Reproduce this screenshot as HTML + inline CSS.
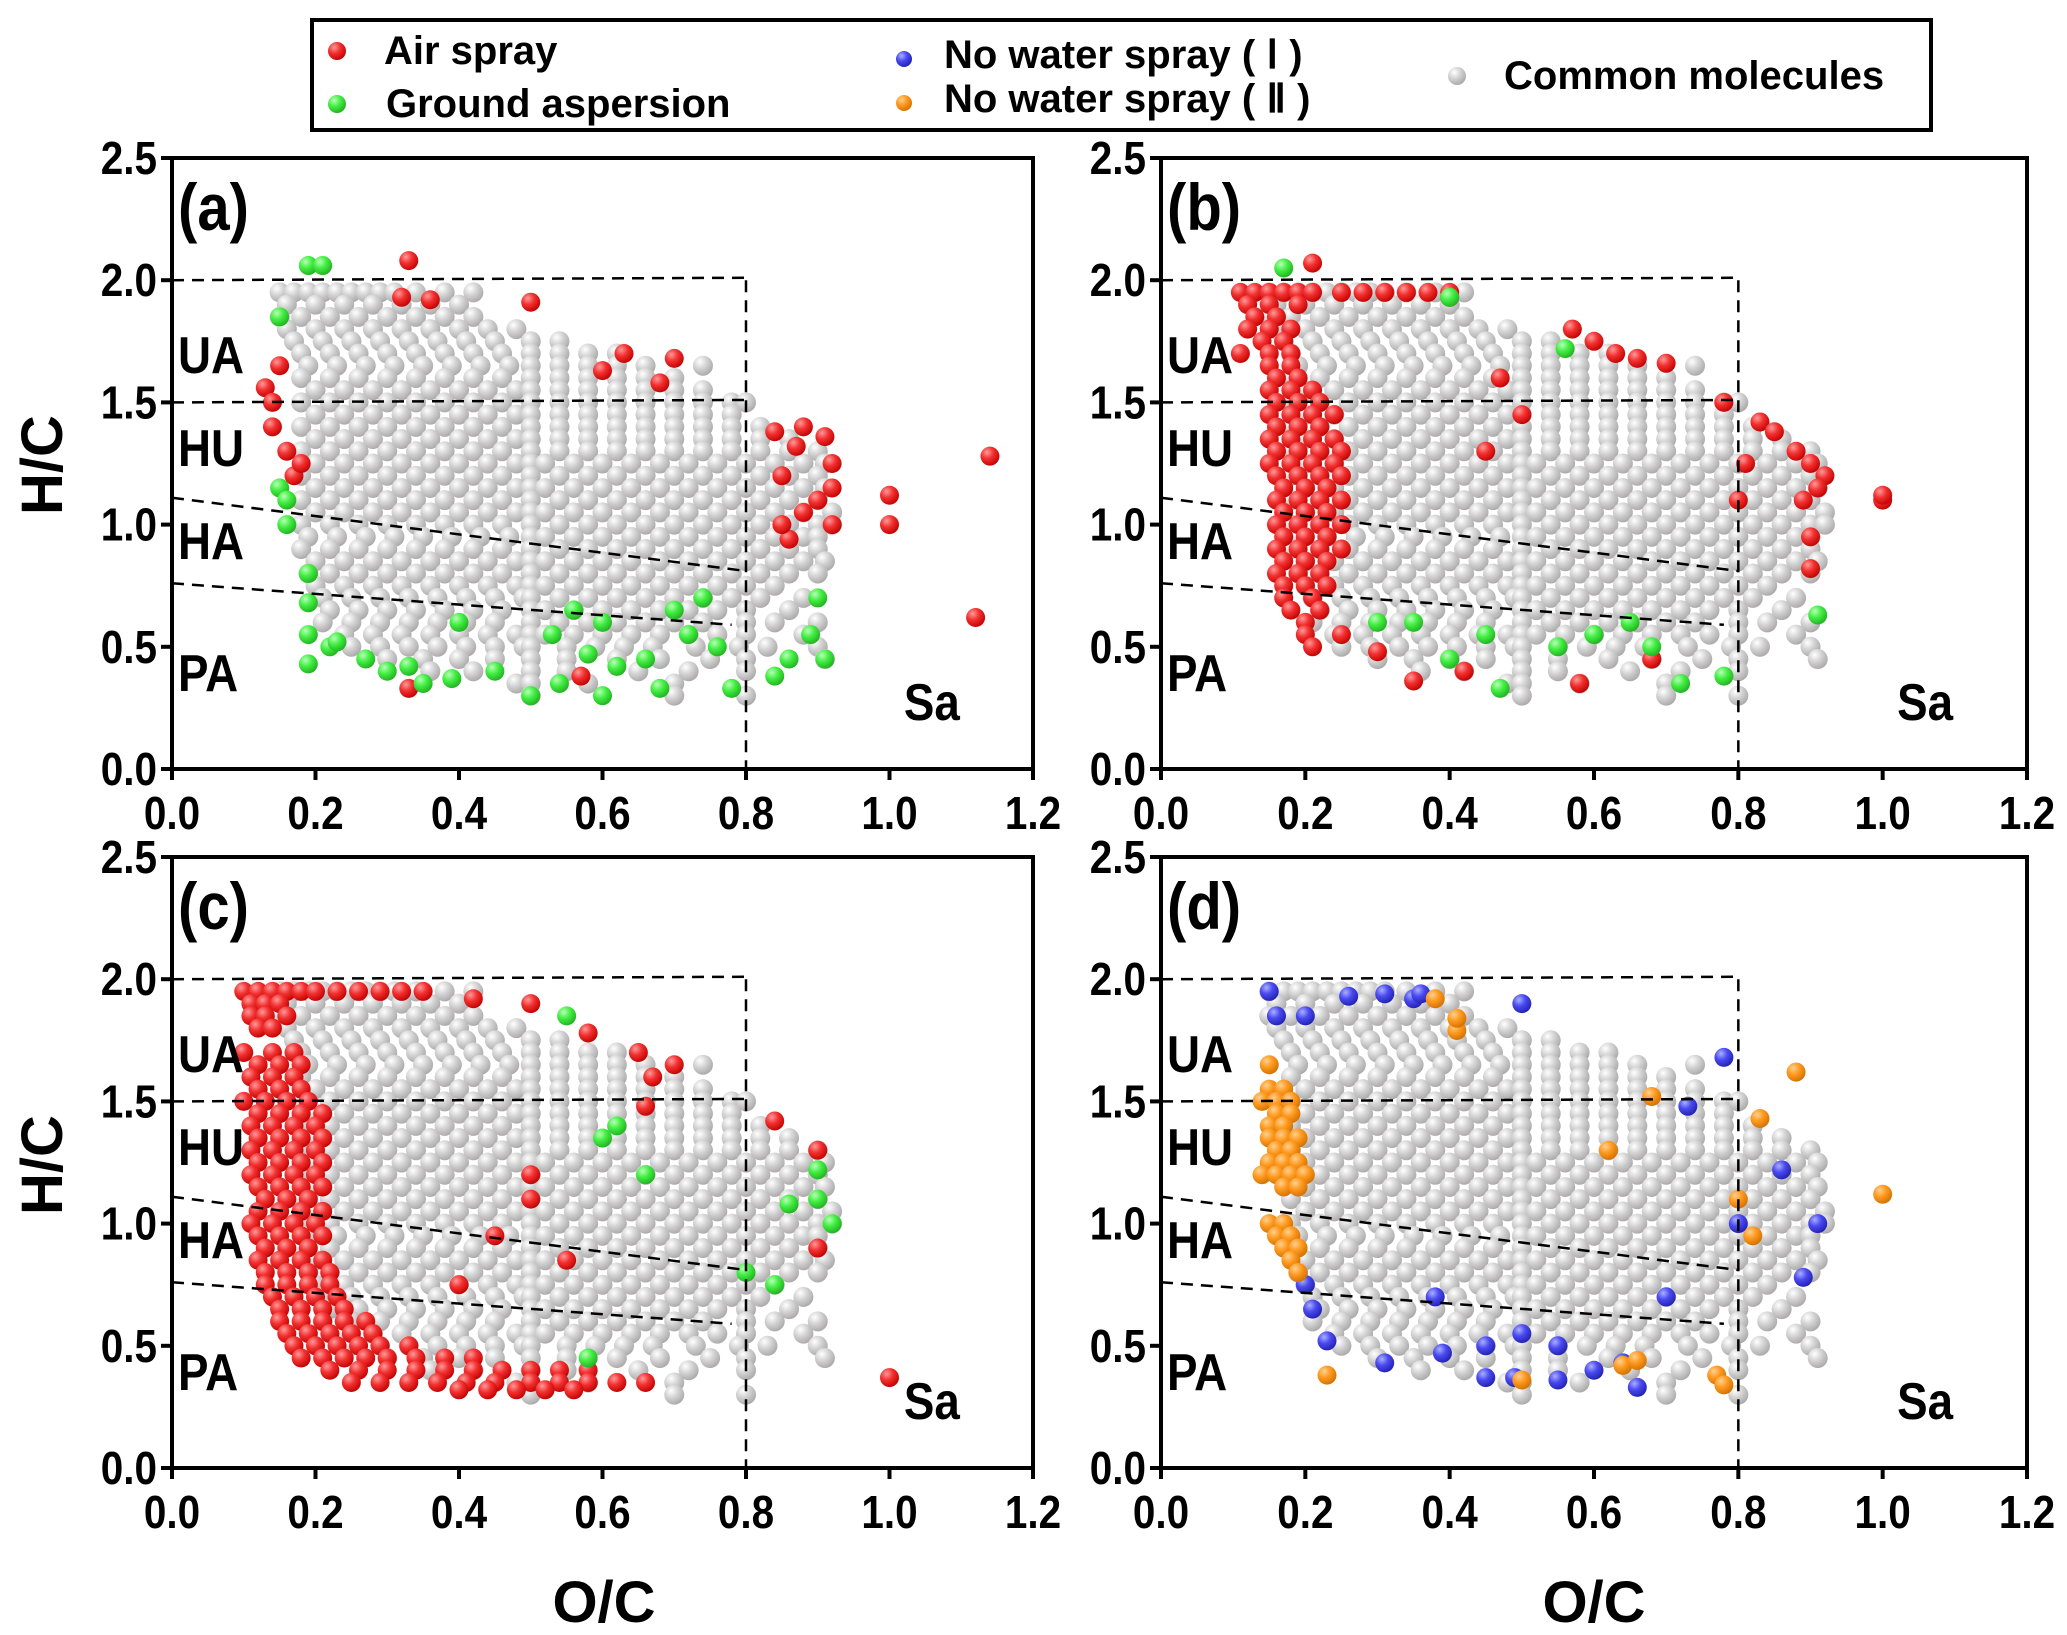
<!DOCTYPE html>
<html><head><meta charset="utf-8"><style>
html,body{margin:0;padding:0;background:#fff;}
svg{display:block;}
text{font-family:"Liberation Sans",Arial,sans-serif;font-weight:bold;fill:#000;}
</style></head><body>
<svg id="fig" width="2067" height="1635" viewBox="0 0 2067 1635" xmlns="http://www.w3.org/2000/svg">
<defs>
<radialGradient id="g-gray" cx="0.35" cy="0.3" r="0.75"><stop offset="0" stop-color="#ffffff"/><stop offset="0.45" stop-color="#d4d4d4"/><stop offset="1" stop-color="#a9a6a6"/></radialGradient>
<radialGradient id="g-red" cx="0.35" cy="0.3" r="0.75"><stop offset="0" stop-color="#ff9a9a"/><stop offset="0.45" stop-color="#f23030"/><stop offset="1" stop-color="#c00000"/></radialGradient>
<radialGradient id="g-green" cx="0.35" cy="0.3" r="0.75"><stop offset="0" stop-color="#b8ffb8"/><stop offset="0.45" stop-color="#44ee44"/><stop offset="1" stop-color="#1eb01e"/></radialGradient>
<radialGradient id="g-blue" cx="0.35" cy="0.3" r="0.75"><stop offset="0" stop-color="#aab0ff"/><stop offset="0.45" stop-color="#4a4af0"/><stop offset="1" stop-color="#2020b0"/></radialGradient>
<radialGradient id="g-orange" cx="0.35" cy="0.3" r="0.75"><stop offset="0" stop-color="#ffd090"/><stop offset="0.45" stop-color="#ff9a20"/><stop offset="1" stop-color="#d07000"/></radialGradient>
</defs>
<g id="legend">
<rect x="312" y="20" width="1619" height="110" fill="#fff" stroke="#000" stroke-width="4"/>
<g><circle cx="337" cy="51" r="9" fill="url(#g-red)"/><text x="384" y="64" font-size="40">Air spray</text></g>
<g><circle cx="337" cy="104" r="9" fill="url(#g-green)"/><text x="386" y="117" font-size="40">Ground aspersion</text></g>
<g><circle cx="904" cy="59" r="8" fill="url(#g-blue)"/><text x="944" y="68" font-size="40">No water spray ( Ⅰ )</text></g>
<g><circle cx="904" cy="103" r="8" fill="url(#g-orange)"/><text x="944" y="112" font-size="40">No water spray ( Ⅱ )</text></g>
<g><circle cx="1457" cy="76" r="9" fill="url(#g-gray)"/><text x="1504" y="89" font-size="40">Common molecules</text></g>
</g>
<text x="62" y="465" font-size="58" text-anchor="middle" transform="rotate(-90 62 465)">H/C</text>
<text x="62" y="1165" font-size="58" text-anchor="middle" transform="rotate(-90 62 1165)">H/C</text>
<text x="604" y="1622" font-size="58" text-anchor="middle">O/C</text>
<text x="1594" y="1622" font-size="58" text-anchor="middle">O/C</text>
</svg>
<script>
// ---- data ----
const xTicks = [0.0, 0.2, 0.4, 0.6, 0.8, 1.0, 1.2];
const yTicks = [0.0, 0.5, 1.0, 1.5, 2.0, 2.5];
const panelLetters = ['(a)', '(b)', '(c)', '(d)'];
const regionLabels = ['UA', 'HU', 'HA', 'PA', 'Sa'];
const regionLabelHC = [1.62, 1.24, 0.86, 0.32, 0.2];
// common molecules: [H/C, [O/C values]]
const commonRows = [
[1.95,[.15,.17,.19,.21,.23,.25,.27,.29,.31,.34,.38,.42]],
[1.90,[.16,.20,.24,.28,.32,.36,.40]],
[1.85,[.15,.18,.22,.26,.30,.34,.38,.42]],
[1.80,[.16,.20,.24,.28,.32,.36,.40,.44,.48]],
[1.75,[.17,.21,.25,.29,.33,.37,.41,.45,.50,.54]],
[1.70,[.18,.22,.26,.30,.34,.38,.42,.46,.50,.54,.58,.62]],
[1.65,[.19,.23,.27,.31,.35,.39,.43,.47,.50,.54,.58,.62,.66,.74]],
[1.60,[.18,.22,.26,.30,.34,.38,.42,.46,.50,.54,.58,.62,.66,.70]],
[1.55,[.20,.24,.28,.32,.36,.40,.44,.48,.50,.54,.58,.62,.66,.70,.74]],
[1.50,[.18,.22,.26,.30,.34,.38,.42,.46,.50,.54,.58,.62,.66,.70,.74,.78,.80]],
[1.45,[.20,.24,.28,.32,.36,.40,.44,.48,.50,.54,.58,.62,.66,.70,.74,.78]],
[1.40,[.18,.22,.26,.30,.34,.38,.42,.46,.50,.54,.58,.62,.66,.70,.74,.78,.82]],
[1.35,[.20,.24,.28,.32,.36,.40,.44,.48,.50,.54,.58,.62,.66,.70,.74,.78,.82,.86]],
[1.30,[.18,.22,.26,.30,.34,.38,.42,.46,.50,.54,.58,.62,.66,.70,.74,.78,.82,.86,.90]],
[1.25,[.20,.24,.28,.32,.36,.40,.44,.48,.50,.52,.56,.60,.64,.68,.72,.76,.80,.84,.88,.91]],
[1.20,[.18,.22,.26,.30,.34,.38,.42,.46,.50,.54,.58,.62,.66,.70,.74,.78,.82,.86,.90]],
[1.15,[.20,.24,.28,.32,.36,.40,.44,.48,.50,.52,.56,.60,.64,.68,.72,.76,.80,.84,.88,.91]],
[1.10,[.18,.22,.26,.30,.34,.38,.42,.46,.50,.54,.58,.62,.66,.70,.74,.78,.82,.86,.90]],
[1.05,[.20,.24,.28,.32,.36,.40,.44,.48,.50,.52,.56,.60,.64,.68,.72,.76,.80,.84,.88,.92]],
[1.00,[.18,.22,.26,.30,.34,.38,.42,.46,.50,.54,.58,.62,.66,.70,.74,.78,.82,.86,.90,.92]],
[0.95,[.19,.23,.27,.31,.35,.39,.43,.47,.50,.52,.56,.60,.64,.68,.72,.76,.80,.84,.88,.90]],
[0.90,[.18,.22,.26,.30,.34,.38,.42,.46,.50,.54,.58,.62,.66,.70,.74,.78,.82,.86,.90]],
[0.85,[.20,.24,.28,.32,.36,.40,.44,.48,.50,.52,.56,.60,.64,.68,.72,.76,.80,.84,.88,.91]],
[0.80,[.19,.22,.26,.30,.34,.38,.42,.46,.50,.54,.58,.62,.66,.70,.74,.78,.82,.86,.90]],
[0.75,[.20,.24,.28,.32,.36,.40,.44,.48,.50,.52,.56,.60,.64,.68,.72,.76,.80,.84]],
[0.70,[.21,.25,.29,.33,.37,.41,.45,.49,.50,.54,.58,.62,.66,.70,.74,.78,.82,.88]],
[0.65,[.22,.26,.30,.34,.38,.42,.46,.50,.52,.56,.60,.64,.68,.72,.76,.80,.86]],
[0.60,[.21,.25,.29,.33,.37,.41,.45,.50,.54,.58,.62,.66,.70,.74,.80,.84,.90]],
[0.55,[.24,.28,.32,.36,.40,.44,.48,.50,.52,.56,.60,.64,.68,.72,.76,.80,.88]],
[0.50,[.25,.29,.33,.37,.41,.45,.49,.50,.55,.59,.63,.67,.73,.79,.83,.90]],
[0.45,[.30,.35,.40,.45,.50,.55,.62,.68,.75,.80,.91]],
[0.40,[.36,.42,.50,.55,.65,.72,.80]],
[0.35,[.48,.50,.58,.70]],
[0.30,[.50,.70,.80]]
];
// panel (a)
const aRedPts = [[.33,2.08],[.50,1.91],[.13,1.56],[.14,1.40],[.17,1.20],[.15,1.65],[.14,1.50],[.32,1.93],[.36,1.92],[.63,1.70],[.70,1.68],[.60,1.63],[.68,1.58],[.84,1.38],[.87,1.32],[.88,1.40],[.91,1.36],[.92,1.25],[.92,1.15],[.90,1.10],[.92,1.00],[.88,1.05],[.85,1.20],[.86,0.94],[.85,1.00],[1.00,1.12],[1.00,1.00],[1.14,1.28],[1.12,0.62],[.33,0.33],[.57,0.38],[.16,1.30],[.18,1.25]];
const aGreenPts = [[.19,2.06],[.21,2.06],[.15,1.85],[.15,1.15],[.16,1.10],[.16,1.00],[.19,0.80],[.19,0.68],[.19,0.55],[.19,0.43],[.22,0.50],[.23,0.52],[.27,0.45],[.30,0.40],[.33,0.42],[.35,0.35],[.39,0.37],[.45,0.40],[.50,0.30],[.54,0.35],[.58,0.47],[.60,0.30],[.62,0.42],[.66,0.45],[.68,0.33],[.72,0.55],[.76,0.50],[.78,0.33],[.84,0.38],[.86,0.45],[.90,0.70],[.89,0.55],[.91,0.45],[.53,0.55],[.56,0.65],[.60,0.60],[.40,0.60],[.70,0.65],[.74,0.70]];
// panel (b)
const bRedRows = [
[1.95,[.11,.13,.15,.17,.19,.21,.25,.28,.31,.34,.37,.40]],
[1.90,[.12,.15,.19]],
[1.85,[.13,.16]],[1.80,[.12,.15,.18]],[1.75,[.14,.17]],[1.70,[.11,.15,.18]],
[1.65,[.15,.18]],[1.60,[.16,.19]],[1.55,[.15,.18,.21]],[1.50,[.16,.19,.22]],
[1.45,[.15,.18,.21,.24]],[1.40,[.16,.19,.22]],[1.35,[.15,.18,.21,.24]],[1.30,[.16,.19,.22,.25]],
[1.25,[.15,.18,.21,.24]],[1.20,[.16,.19,.22,.25]],[1.15,[.17,.20,.23]],[1.10,[.16,.19,.22,.25]],
[1.05,[.17,.20,.23]],[1.00,[.16,.19,.22,.25]],[0.95,[.17,.20,.23]],[0.90,[.16,.19,.22,.25]],
[0.85,[.17,.20,.23]],[0.80,[.16,.19,.22]],[0.75,[.17,.20,.23]],[0.70,[.17,.21]],
[0.65,[.18,.22]],[0.60,[.20]],[0.55,[.20,.25]],[0.50,[.21]]
];
const bRedPts = [[.21,2.07],[.40,1.93],[.57,1.80],[.60,1.75],[.63,1.70],[.66,1.68],[.70,1.66],[.78,1.50],[.83,1.42],[.85,1.38],[.88,1.30],[.90,1.25],[.92,1.20],[.91,1.15],[.89,1.10],[.90,0.95],[.90,0.82],[.81,1.25],[.80,1.10],[1.00,1.10],[1.00,1.12],[.35,0.36],[.42,0.40],[.58,0.35],[.68,0.45],[.30,0.48],[.47,1.60],[.50,1.45],[.45,1.30]];
const bGreenPts = [[.17,2.05],[.40,1.93],[.91,0.63],[.47,0.33],[.72,0.35],[.78,0.38],[.40,0.45],[.45,0.55],[.55,0.50],[.60,0.55],[.65,0.60],[.68,0.50],[.30,0.60],[.35,0.60],[.56,1.72]];
// panel (c)
const cRedRows = [
[1.95,[.10,.12,.14,.16,.18,.20,.23,.26,.29,.32,.35]],
[1.90,[.11,.13,.15]],[1.85,[.11,.13,.16]],[1.80,[.12,.14]],
[1.70,[.10,.14,.17]],[1.65,[.12,.15,.18]],[1.60,[.11,.14,.17]],[1.55,[.12,.15,.18]],
[1.50,[.10,.13,.16,.19]],[1.45,[.12,.15,.18,.21]],[1.40,[.11,.14,.17,.20]],[1.35,[.12,.15,.18,.21]],
[1.30,[.11,.14,.17,.20]],[1.25,[.12,.15,.18,.21]],[1.20,[.11,.14,.17,.20]],[1.15,[.12,.15,.18,.21]],
[1.10,[.13,.16,.19]],[1.05,[.12,.15,.18,.21]],[1.00,[.11,.14,.17,.20]],[0.95,[.12,.15,.18,.21]],
[0.90,[.13,.16,.19]],[0.85,[.12,.15,.18,.21]],[0.80,[.13,.16,.19,.22]],[0.75,[.13,.16,.19,.22]],
[0.70,[.14,.17,.20,.23]],[0.65,[.15,.18,.21,.24]],[0.60,[.15,.18,.21,.24,.27]],[0.55,[.16,.19,.22,.25,.28]],
[0.50,[.17,.20,.23,.26,.29,.33]],[0.45,[.18,.21,.24,.27,.30,.34,.38,.42]],
[0.40,[.22,.26,.30,.34,.38,.42,.46,.50,.54,.58]],[0.35,[.25,.29,.33,.37,.41,.45,.50,.54,.58,.62,.66]],
[0.32,[.40,.44,.48,.52,.56]]
];
const cRedPts = [[.42,1.92],[.50,1.90],[.58,1.78],[.65,1.70],[.70,1.65],[.67,1.60],[.66,1.48],[.84,1.42],[.90,1.30],[.90,0.90],[1.00,0.37],[.50,1.20],[.50,1.10],[.45,0.95],[.55,0.85],[.40,0.75]];
const cGreenPts = [[.90,1.22],[.90,1.10],[.92,1.00],[.86,1.08],[.84,0.75],[.80,0.80],[.58,0.45],[.55,1.85],[.60,1.35],[.62,1.40],[.66,1.20]];
// panel (d)
const dBluePts = [[.15,1.95],[.16,1.85],[.20,1.85],[.26,1.93],[.31,1.94],[.35,1.92],[.36,1.94],[.50,1.90],[.78,1.68],[.73,1.48],[.86,1.22],[.89,0.78],[.91,1.00],[.80,1.00],[.20,0.75],[.21,0.65],[.23,0.52],[.31,0.43],[.39,0.47],[.45,0.37],[.49,0.37],[.55,0.36],[.60,0.40],[.64,0.43],[.66,0.33],[.45,0.50],[.50,0.55],[.55,0.50],[.38,0.70],[.70,0.70]];
const dOrangeRows = [
[1.65,[.15]],[1.55,[.15,.17]],[1.50,[.14,.16,.18]],[1.45,[.16,.18]],[1.40,[.15,.17]],
[1.35,[.15,.17,.19]],[1.30,[.16,.18]],[1.25,[.15,.17,.19]],[1.20,[.14,.16,.18,.20]],[1.15,[.17,.19]],
[1.00,[.15,.17]],[0.95,[.16,.18]],[0.90,[.17,.19]],[0.85,[.18]],[0.80,[.19]]
];
const dOrangePts = [[.23,0.38],[.50,0.36],[.64,0.42],[.66,0.44],[.77,0.38],[.78,0.34],[.88,1.62],[1.00,1.12],[.83,1.43],[.38,1.92],[.41,1.79],[.41,1.84],[.68,1.52],[.82,0.95],[.80,1.10],[.62,1.30]];

// ---- layout ----
const panels = [
 {x0:172, x1:1033, yT:158, yB:769},
 {x0:1161, x1:2027, yT:158, yB:769},
 {x0:172, x1:1033, yT:857, yB:1468},
 {x0:1161, x1:2027, yT:857, yB:1468}
];
const NS = 'http://www.w3.org/2000/svg';
const svg = document.getElementById('fig');
function mk(tag, attrs, parent){const e=document.createElementNS(NS,tag);for(const k in attrs)e.setAttribute(k,attrs[k]);(parent||svg).appendChild(e);return e;}
function rowsToPts(rows){const out=[];rows.forEach(r=>r[1].forEach(o=>out.push([o,r[0]])));return out;}
function ctext(parent, x, y, size, anchor, str){
  const g = mk('g', {transform: 'translate(' + x + ',' + y + ') scale(0.88,1)'}, parent);
  const t = mk('text', {x: 0, y: 0, 'font-size': size, 'text-anchor': anchor}, g);
  t.textContent = str;
  return t;
}

const panelSeries = [
 [['red', aRedPts], ['green', aGreenPts]],
 [['red', rowsToPts(bRedRows).concat(bRedPts)], ['green', bGreenPts]],
 [['red', rowsToPts(cRedRows).concat(cRedPts)], ['green', cGreenPts]],
 [['blue', dBluePts], ['orange', rowsToPts(dOrangeRows).concat(dOrangePts)]]
];
const commonPts = rowsToPts(commonRows);

panels.forEach((p, i) => {
  const sx = v => p.x0 + (v / 1.2) * (p.x1 - p.x0);
  const sy = v => p.yB - (v / 2.5) * (p.yB - p.yT);
  const g = mk('g', {});
  
  
  const clipId = 'clip' + i;
  const cp = mk('clipPath', {id: clipId}, g);
  mk('rect', {x: p.x0, y: p.yT, width: p.x1 - p.x0, height: p.yB - p.yT}, cp);
  const pts = mk('g', {'clip-path': 'url(#' + clipId + ')'}, g);
  
  
  commonPts.forEach(d => {
    const c = mk('circle', {cx: sx(d[0]), cy: sy(d[1]), r: 10, fill: 'url(#g-gray)'}, pts);
    
    
  });
  panelSeries[i].forEach(s => {
    s[1].forEach(d => {
      const c = mk('circle', {cx: sx(d[0]), cy: sy(d[1]), r: 9.5, fill: 'url(#g-' + s[0] + ')'}, pts);
      
      
    });
  });
  const dl = mk('g', {stroke: '#000', 'stroke-width': 2.5, 'stroke-dasharray': '12 8', fill: 'none'}, g);
  
  
  mk('line', {x1: sx(0), y1: sy(2.0), x2: sx(0.8), y2: sy(2.01)}, dl);
  mk('line', {x1: sx(0.8), y1: sy(2.0), x2: sx(0.8), y2: sy(0)}, dl);
  mk('line', {x1: sx(0), y1: sy(1.5), x2: sx(0.8), y2: sy(1.51)}, dl);
  mk('line', {x1: sx(0), y1: sy(1.11), x2: sx(0.8), y2: sy(0.81)}, dl);
  mk('line', {x1: sx(0), y1: sy(0.76), x2: sx(0.78), y2: sy(0.59)}, dl);
  const fr = mk('rect', {x: p.x0, y: p.yT, width: p.x1 - p.x0, height: p.yB - p.yT, fill: 'none', stroke: '#000', 'stroke-width': 4}, g);
  
  
  xTicks.forEach(v => {
    mk('line', {x1: sx(v), y1: p.yB, x2: sx(v), y2: p.yB + 11, stroke: '#000', 'stroke-width': 4}, g);
    const t = ctext(g, sx(v), p.yB + 60, 46, 'middle', v.toFixed(1));
    
    
  });
  yTicks.forEach(v => {
    mk('line', {x1: p.x0 - 11, y1: sy(v), x2: p.x0, y2: sy(v), stroke: '#000', 'stroke-width': 4}, g);
    const t = ctext(g, p.x0 - 15, sy(v) + 16, 46, 'end', v.toFixed(1));
    
    
  });
  const pl = ctext(g, p.x0 + 6, p.yT + 72, 66, 'start', panelLetters[i]);
  
  
  regionLabels.forEach((lab, k) => {
    const x = lab === 'Sa' ? sx(1.02) : p.x0 + 6;
    const t = ctext(g, x, sy(regionLabelHC[k]), 52, 'start', lab);
    
    
  });
});
</script>
</body></html>
